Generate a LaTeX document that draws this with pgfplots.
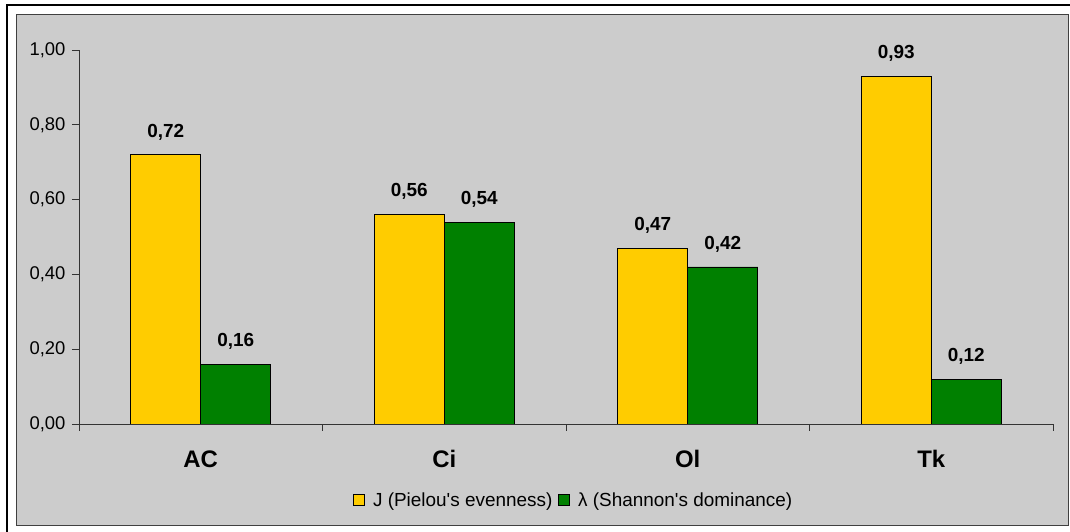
\documentclass[border=0pt]{standalone}
\usepackage{fontspec}
\setmainfont{Liberation Sans}
\usepackage{pgfplots}
\pgfplotsset{compat=1.18}
\definecolor{bgg}{HTML}{CCCCCC}
\definecolor{barY}{HTML}{FFCC00}
\definecolor{barG}{HTML}{008000}
\begin{document}
\begin{tikzpicture}[x=1bp,y=1bp]
\fill[bgg,draw=black!75,line width=0.8bp] (16,7) rectangle (1068,518);
\draw[black,line width=2.5bp] (7,-20) -- (7,527) -- (1100,527);
\begin{axis}[
  at={(79bp,108bp)}, anchor=south west, scale only axis,
  width=974bp, height=374bp,
  ymin=0, ymax=1, xmin=-0.5, xmax=3.5,
  enlargelimits=false,
  axis x line*=bottom, axis y line*=left,
  axis line style={black!80, line width=0.8bp},
  every tick/.style={black!80, line width=0.8bp},
  tick align=outside, major tick length=7bp,
  ybar=0pt, bar width=70bp,
  /pgf/number format/assume math mode=true,
  /pgf/number format/.cd, fixed, fixed zerofill, precision=2, use comma, /pgfplots/.cd,
  ytick={0,0.2,0.4,0.6,0.8,1},
  yticklabel style={font=\fontsize{18.5}{21}\selectfont, xshift=-3bp},
  xtick={-0.5,0.5,1.5,2.5,3.5},
  xticklabels={{},{},{},{},{}},
  extra x ticks={0,1,2,3},
  extra x tick labels={AC,Ci,Ol,Tk},
  extra x tick style={major tick length=0pt,
    xticklabel style={font=\bfseries\fontsize{24}{28}\selectfont, anchor=center, yshift=-35bp}},
  nodes near coords,
  every node near coord/.append style={font=\bfseries\fontsize{19}{22}\selectfont, black, yshift=11bp},
  legend style={at={(0.508,-0.203)}, anchor=center, draw=none, fill=none,
    legend columns=-1, font=\fontsize{19}{22}\selectfont,
    /tikz/every even column/.append style={column sep=4bp},
    /tikz/every odd column/.append style={column sep=6bp}},
  legend image code/.code={\draw[#1,line width=0.8bp] (0bp,-5.5bp) rectangle (11bp,5.5bp);},
]
\addplot[fill=barY, draw=black, line width=0.8bp] coordinates {(0,0.72) (1,0.56) (2,0.47) (3,0.93)};
\addplot[fill=barG, draw=black, line width=0.8bp] coordinates {(0,0.16) (1,0.54) (2,0.42) (3,0.12)};
\legend{J (Pielou\textquotesingle s evenness), λ (Shannon\textquotesingle s dominance)}
\end{axis}
\pgfresetboundingbox
\useasboundingbox (0,0) rectangle (1070,532);
\end{tikzpicture}
\end{document}
